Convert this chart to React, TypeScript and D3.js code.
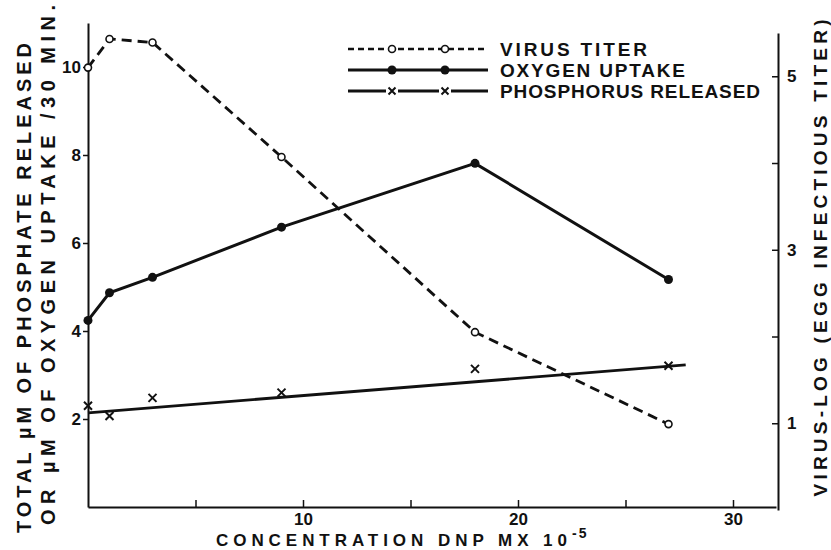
import { useEffect, useRef } from "react";
import * as d3 from "d3";

const concentration = [0, 1, 3, 9, 18, 27];
const virusTiter = [5.1, 5.43, 5.39, 4.07, 2.05, 0.99];
const oxygenUptake = [4.24, 4.87, 5.22, 6.36, 7.81, 5.17];
const phosphorusReleased = [2.3, 2.07, 2.48, 2.6, 3.14, 3.21];

// straight fitted line through the phosphorus points
const phosphorusFitConcentration = [0, 27.8];
const phosphorusFitValues = [2.14, 3.23];

const leftTicks = [2, 4, 6, 8, 10];
const bottomTicks = [5, 10, 15, 20, 25, 30];
const bottomLabels = [10, 20, 30];
const rightTicks = [1, 2, 3, 4, 5];
const rightLabels = [1, 3, 5];

const legendLabels = ["VIRUS TITER", "OXYGEN UPTAKE", "PHOSPHORUS RELEASED"];

const width = 831;
const height = 550;
const ink = "#111";
const font = "'Liberation Sans', Arial, sans-serif";

export default function App() {
	const ref = useRef<SVGSVGElement>(null);

	useEffect(() => {
		if (!ref.current) return;
		const svg = d3.select(ref.current);
		svg.selectAll("*").remove();

		const x = d3.scaleLinear().domain([0, 32]).range([88, 776]);
		const yLeft = d3.scaleLinear().domain([0, 11]).range([507, 23]);
		const yRight = d3.scaleLinear().domain([0, 5.5]).range([510, 32.9]);

		const styleTicks = (g: d3.Selection<SVGGElement, unknown, null, undefined>) => {
			g.select(".domain").attr("stroke", ink).attr("stroke-width", 2);
			g.selectAll(".tick line").attr("stroke", ink).attr("stroke-width", 1.5);
			g.selectAll(".tick text")
				.attr("fill", ink)
				.attr("font-family", font)
				.attr("font-weight", "bold")
				.attr("font-size", 17);
		};

		svg
			.append("g")
			.attr("transform", `translate(0,${yLeft(0)})`)
			.call(
				d3
					.axisBottom(x)
					.tickValues(bottomTicks)
					.tickSizeInner(-7)
					.tickSizeOuter(0)
					.tickPadding(6)
					.tickFormat((v) => (bottomLabels.includes(Number(v)) ? String(v) : ""))
			)
			.call(styleTicks);

		svg
			.append("g")
			.attr("transform", `translate(${x(0)},0)`)
			.call(d3.axisLeft(yLeft).tickValues(leftTicks).tickSizeInner(5).tickSizeOuter(0).tickPadding(2))
			.call(styleTicks);

		svg
			.append("g")
			.attr("transform", `translate(${x(32) + 2},0)`)
			.call(
				d3
					.axisRight(yRight)
					.tickValues(rightTicks)
					.tickSizeInner(-6)
					.tickSizeOuter(0)
					.tickPadding(9)
					.tickFormat((v) => (rightLabels.includes(Number(v)) ? String(v) : ""))
			)
			.call(styleTicks);

		const plot = svg.append("g");

		const virusLine = d3
			.line<number>()
			.x((_, i) => x(concentration[i]))
			.y((v) => yRight(v));
		const leftLine = d3
			.line<number>()
			.x((_, i) => x(concentration[i]))
			.y((v) => yLeft(v));
		const fitLine = d3
			.line<number>()
			.x((_, i) => x(phosphorusFitConcentration[i]))
			.y((v) => yLeft(v));

		plot
			.append("path")
			.attr("d", fitLine(phosphorusFitValues))
			.attr("fill", "none")
			.attr("stroke", ink)
			.attr("stroke-width", 2.8);

		plot
			.append("path")
			.attr("d", leftLine(oxygenUptake))
			.attr("fill", "none")
			.attr("stroke", ink)
			.attr("stroke-width", 3);

		plot
			.append("path")
			.attr("d", virusLine(virusTiter))
			.attr("fill", "none")
			.attr("stroke", ink)
			.attr("stroke-width", 2.8)
			.attr("stroke-dasharray", "10,6");

		const cross = "M-4,-4L4,4M-4,4L4,-4";

		plot
			.selectAll("path.cross")
			.data(phosphorusReleased)
			.join("path")
			.attr("class", "cross")
			.attr("d", cross)
			.attr("transform", (v, i) => `translate(${x(concentration[i])},${yLeft(v)})`)
			.attr("stroke", ink)
			.attr("stroke-width", 2);

		plot
			.selectAll("circle.oxygen")
			.data(oxygenUptake)
			.join("circle")
			.attr("class", "oxygen")
			.attr("cx", (_, i) => x(concentration[i]))
			.attr("cy", (v) => yLeft(v))
			.attr("r", 4.5)
			.attr("fill", ink);

		plot
			.selectAll("circle.virus")
			.data(virusTiter)
			.join("circle")
			.attr("class", "virus")
			.attr("cx", (_, i) => x(concentration[i]))
			.attr("cy", (v) => yRight(v))
			.attr("r", 3.5)
			.attr("fill", "#fff")
			.attr("stroke", ink)
			.attr("stroke-width", 1.6);

		// legend
		const legendRows = [49, 70, 91];
		const legendMarks = [392, 445];
		const legendTextLength = [147, 185, 260];
		const legend = svg.append("g");

		legendLabels.forEach((label, i) => {
			const row = legend.append("g").attr("transform", `translate(0,${legendRows[i]})`);
			row
				.append("line")
				.attr("x1", 348)
				.attr("x2", 488)
				.attr("stroke", ink)
				.attr("stroke-width", i === 0 ? 2.5 : 3)
				.attr("stroke-dasharray", i === 0 ? "6,4" : null);
			legendMarks.forEach((mx) => {
				if (i === 0) {
					row
						.append("circle")
						.attr("cx", mx)
						.attr("r", 3.5)
						.attr("fill", "#fff")
						.attr("stroke", ink)
						.attr("stroke-width", 1.6);
				} else if (i === 1) {
					row.append("circle").attr("cx", mx).attr("r", 4.5).attr("fill", ink);
				} else {
					row
						.append("rect")
						.attr("x", mx - 6)
						.attr("y", -5)
						.attr("width", 12)
						.attr("height", 10)
						.attr("fill", "#fff");
					row
						.append("path")
						.attr("d", "M-3.5,-3.5L3.5,3.5M-3.5,3.5L3.5,-3.5")
						.attr("transform", `translate(${mx},0)`)
						.attr("stroke", ink)
						.attr("stroke-width", 2);
				}
			});
			row
				.append("text")
				.attr("x", 500)
				.attr("y", 7)
				.attr("fill", ink)
				.attr("font-family", font)
				.attr("font-weight", "bold")
				.attr("font-size", 19)
				.attr("textLength", legendTextLength[i])
				.attr("lengthAdjust", "spacing")
				.text(label);
		});

		// axis titles
		const title = (sel: d3.Selection<SVGTextElement, unknown, null, undefined>, size: number) =>
			sel
				.attr("fill", ink)
				.attr("font-family", font)
				.attr("font-weight", "bold")
				.attr("font-size", size)
				.attr("text-anchor", "middle");

		svg
			.append("text")
			.attr("transform", "translate(31,288) rotate(-90)")
			.attr("textLength", 490)
			.attr("lengthAdjust", "spacing")
			.call(title, 20)
			.text("TOTAL µM OF PHOSPHATE RELEASED");

		svg
			.append("text")
			.attr("transform", "translate(55,265) rotate(-90)")
			.attr("textLength", 520)
			.attr("lengthAdjust", "spacing")
			.call(title, 20)
			.text("OR µM OF OXYGEN UPTAKE /30 MIN.");

		svg
			.append("text")
			.attr("transform", "translate(827,258) rotate(-90)")
			.attr("textLength", 477)
			.attr("lengthAdjust", "spacing")
			.call(title, 19)
			.text("VIRUS-LOG (EGG INFECTIOUS TITER)");

		svg
			.append("text")
			.attr("x", 216)
			.attr("y", 546)
			.attr("textLength", 351)
			.attr("lengthAdjust", "spacing")
			.call(title, 17)
			.attr("text-anchor", "start")
			.text("CONCENTRATION DNP MX 10");

		svg
			.append("text")
			.attr("x", 572)
			.attr("y", 538)
			.call(title, 14)
			.attr("text-anchor", "start")
			.attr("letter-spacing", 2)
			.text("-5");
	}, []);

	return (
		<svg
			ref={ref}
			width={width}
			height={height}
			style={{ position: "absolute", left: 0, top: 0, background: "#fff" }}
		/>
	);
}
